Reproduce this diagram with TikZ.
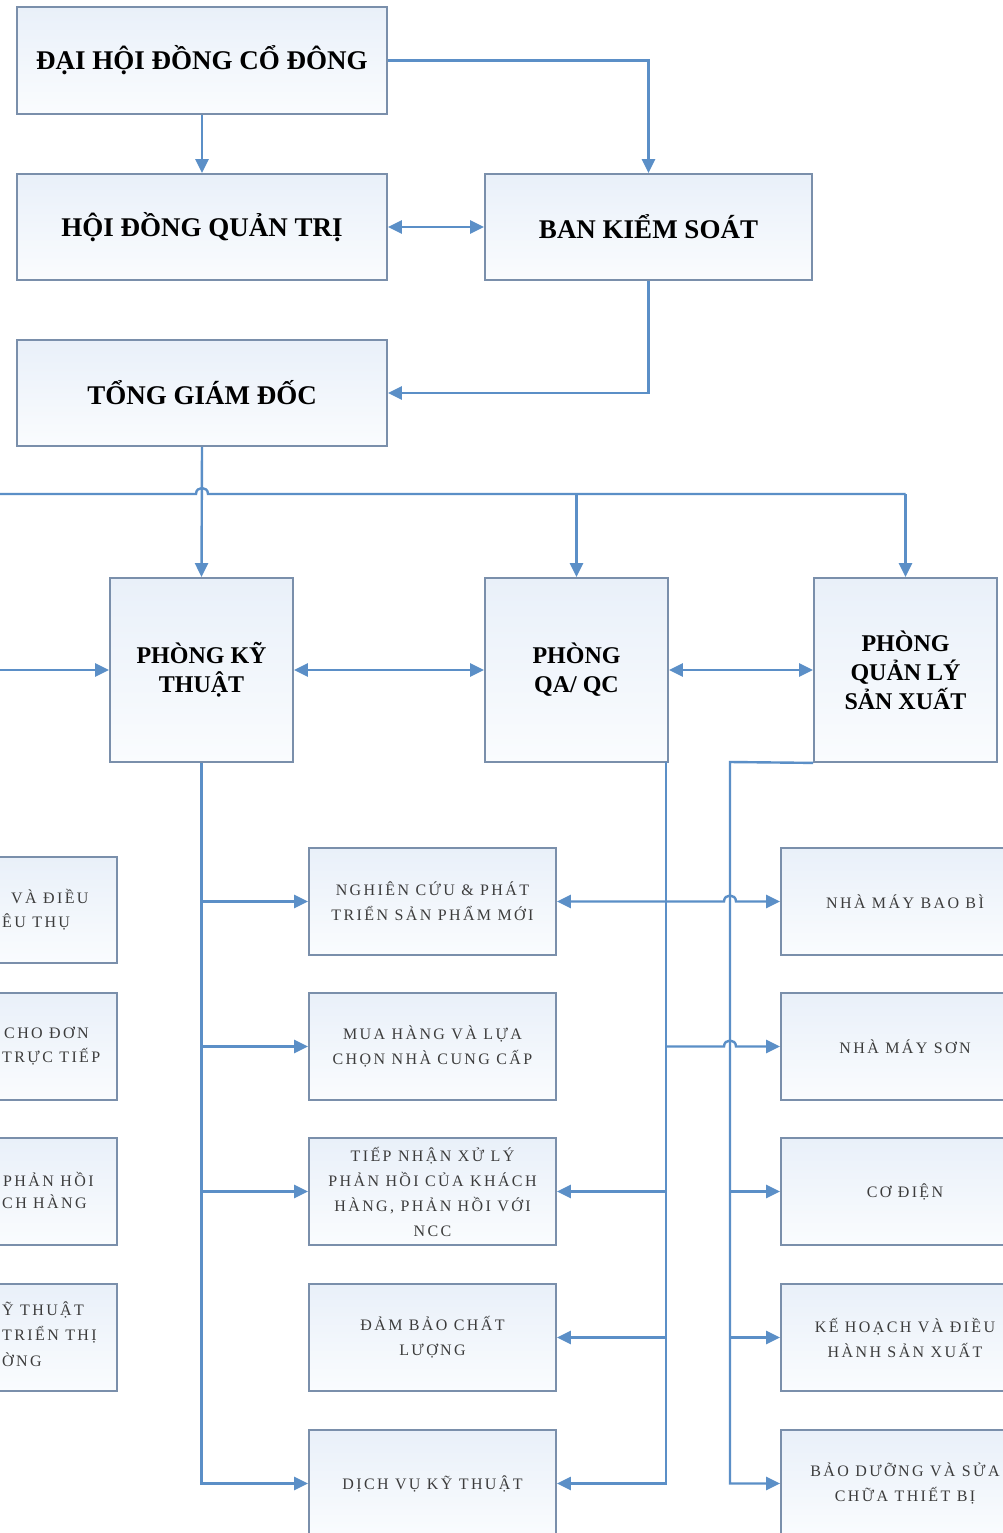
\documentclass[tikz,border=0pt]{standalone}
\usepackage{fontspec}
\setmainfont{Liberation Serif}
\usetikzlibrary{arrows.meta}
\definecolor{conn}{HTML}{5B8FC7}
\definecolor{bord}{HTML}{7A8FAB}
\definecolor{boxtop}{HTML}{E9F0F9}
\definecolor{boxbot}{HTML}{FAFCFE}
\definecolor{txt}{HTML}{3C3C3C}
\begin{document}
\begin{tikzpicture}[x=1pt,y=-1pt,
  box/.style={draw=bord,line width=1.8pt,top color=boxtop,bottom color=boxbot,inner sep=0pt,align=center},
  topbox/.style={box,minimum width=370pt,minimum height=106pt,font=\fontsize{27}{30}\selectfont\bfseries},
  dept/.style={box,minimum width=183pt,minimum height=184pt,font=\fontsize{24}{29}\selectfont\bfseries},
  sub/.style={box,minimum width=247pt,minimum height=107pt,text=txt,font=\fontsize{16}{25}\selectfont\addfontfeature{LetterSpace=15}},
  frag/.style={anchor=west,inner sep=0pt,text=txt,font=\fontsize{16}{25}\selectfont\addfontfeature{LetterSpace=15}},
  line/.style={draw=conn,line width=2.4pt},
  arr/.style={line,-{Triangle[length=14pt,width=13pt]}},
  darr/.style={line,{Triangle[length=14pt,width=13pt]}-{Triangle[length=14pt,width=13pt]}},
]
\useasboundingbox (0,0) rectangle (1002,1533);
\fill[white] (0,0) rectangle (1002,1533);

% top level
\node[topbox,minimum height=107pt] (dh) at (202,60.5) {ĐẠI HỘI ĐỒNG CỔ ĐÔNG};
\node[topbox] (hd) at (202,227) {HỘI ĐỒNG QUẢN TRỊ};
\node[topbox,minimum width=327pt] (bks) at (648.5,227) {BAN KIỂM SOÁT};
\node[topbox] (tgd) at (202,393) {TỔNG GIÁM ĐỐC};

% departments
\node[dept] (kt) at (201.5,670) {PHÒNG KỸ\\THUẬT};
\node[dept] (qa) at (576.5,670) {PHÒNG\\QA/ QC};
\node[dept] (ql) at (905.5,670) {PHÒNG\\QUẢN LÝ\\SẢN XUẤT};

% middle column
\node[sub] (m1) at (432.5,901.5) {NGHIÊN CỨU \& PHÁT\\TRIỂN SẢN PHẨM MỚI};
\node[sub] (m2) at (432.5,1046.5) {MUA HÀNG VÀ LỰA\\CHỌN NHÀ CUNG CẤP};
\node[sub] (m3) at (432.5,1191.5) {TIẾP NHẬN XỬ LÝ\\PHẢN HỒI CỦA KHÁCH\\HÀNG, PHẢN HỒI VỚI\\NCC};
\node[sub] (m4) at (432.5,1337.5) {ĐẢM BẢO CHẤT\\LƯỢNG};
\node[sub] (m5) at (432.5,1483.5) {DỊCH VỤ KỸ THUẬT};

% right column
\node[sub,minimum width=248pt] (r1) at (905,901.5) {NHÀ MÁY BAO BÌ};
\node[sub,minimum width=248pt] (r2) at (905,1046.5) {NHÀ MÁY SƠN};
\node[sub,minimum width=248pt] (r3) at (905,1191.5) {CƠ ĐIỆN};
\node[sub,minimum width=248pt] (r4) at (905,1337.5) {KẾ HOẠCH VÀ ĐIỀU\\HÀNH SẢN XUẤT};
\node[sub,minimum width=248pt] (r5) at (905,1483.5) {BẢO DƯỠNG VÀ SỬA\\CHỮA THIẾT BỊ};

% left column (cut off by the page edge)
\node[sub,minimum width=248pt,minimum height=106pt] (l1) at (-7,910) {};
\node[sub,minimum width=248pt] (l2) at (-7,1046.5) {};
\node[sub,minimum width=248pt] (l3) at (-7,1191.5) {};
\node[sub,minimum width=248pt] (l4) at (-7,1337.5) {};
\node[frag] (l1a) at (11,897) {VÀ ĐIỀU};
\node[frag] (l1b) at (2,922) {ÊU THỤ};
\node[frag] (l2a) at (4,1033) {CHO ĐƠN};
\node[frag] (l2b) at (2,1057) {TRỰC TIẾP};
\node[frag] (l3a) at (3,1179) {PHẢN HỒI};
\node[frag] (l3b) at (2,1202) {CH HÀNG};
\node[frag] (l4a) at (2,1310) {Ỹ THUẬT};
\node[frag] (l4b) at (2,1335) {TRIỂN THỊ};
\node[frag] (l4c) at (2,1360) {ỜNG};

% top connectors
\draw[arr] (dh.south) -- (hd.north);
\draw[arr] (dh.east) -| (bks.north);
\draw[darr] (hd.east) -- (bks.west);
\draw[arr] (bks.south) |- (tgd.east);
\draw[arr] (tgd.south) -- (kt.north);

% bus from the left
\coordinate (busL) at (0,494);
\coordinate (busQA) at (576.5,494);
\coordinate (busQL) at (905.5,494);
\draw[line] (busL) -- (196,494) .. controls (196,486) and (208,486) .. (208,494) -- (busQL);
\draw[arr] (busQA) -- (qa.north);
\draw[arr] (busQL) -- (ql.north);

\coordinate (ktL) at (0,670);
\draw[arr] (ktL) -- (kt.west);
\draw[darr] (kt.east) -- (qa.west);
\draw[darr] (qa.east) -- (ql.west);

% trunk of Phong Ky Thuat
\draw[arr] (kt.south) |- (m5.west);
\draw[arr] (kt.south |- m1.west) -- (m1.west);
\draw[arr] (kt.south |- m2.west) -- (m2.west);
\draw[arr] (kt.south |- m3.west) -- (m3.west);

% trunk of Phong QA/QC
\coordinate (qaT) at (666,762);
\draw[arr] (qaT) |- (m5.east);
\draw[arr] (qaT |- m3.east) -- (m3.east);
\draw[arr] (qaT |- m4.east) -- (m4.east);
\draw[darr] (m1.east) -- (724,901.5) .. controls (724,893.5) and (736,893.5) .. (736,901.5) -- (r1.west);
\draw[arr] (qaT |- m2.east) -- (724,1046.5) .. controls (724,1038.5) and (736,1038.5) .. (736,1046.5) -- (r2.west);

% trunk of Phong Quan Ly San Xuat
\coordinate (qlT) at (730,762);
\draw[arr] (ql.south west) -- (qlT) |- (r5.west);
\draw[arr] (qlT |- r3.west) -- (r3.west);
\draw[arr] (qlT |- r4.west) -- (r4.west);
\end{tikzpicture}
\end{document}
